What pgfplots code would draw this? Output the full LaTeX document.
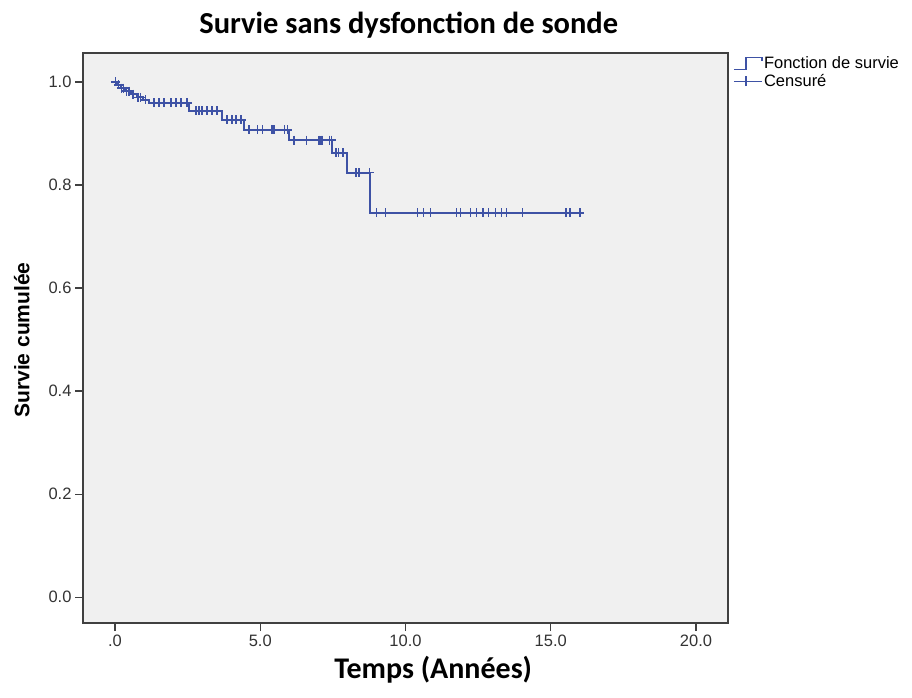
\documentclass[border=0pt]{standalone}
\usepackage{fontspec}
\setmainfont{Liberation Sans}
\newfontfamily\carlito{Carlito}
\usepackage{pgfplots}
\pgfplotsset{compat=1.18}

\definecolor{kmblue}{RGB}{62,82,165}
\definecolor{plotbg}{RGB}{240,240,240}

\begin{document}
\begin{tikzpicture}
\path[use as bounding box] (0pt,0pt) rectangle (912pt,698pt);
\begin{axis}[
    at={(83pt,75pt)}, anchor=south west,
    width=645pt, height=570pt, scale only axis,
    xmin=-1.1, xmax=21.1,
    ymin=-0.05, ymax=1.056,
    xtick={0,5,10,15,20},
    xticklabels={.0,5.0,10.0,15.0,20.0},
    ytick={0,0.2,0.4,0.6,0.8,1.0},
    yticklabels={0.0,0.2,0.4,0.6,0.8,1.0},
    tick align=outside, xtick pos=left, ytick pos=left,
    major tick length=8pt,
    tick style={line width=1.3pt, black!75},
    axis line style={line width=1.3pt, black!75},
    axis background/.style={fill=plotbg},
    ticklabel style={font=\fontsize{16.5}{18}\selectfont, text=black!80},
    /pgf/number format/assume math mode=true,
    title={\carlito\bfseries Survie sans dysfonction de sonde},
    title style={font=\fontsize{30.5}{34}\selectfont, at={(axis description cs:0.505,1)}, anchor=center, yshift=22pt},
    xlabel={\carlito\bfseries Temps (Années)},
    xlabel style={font=\fontsize{30}{34}\selectfont, at={(axis description cs:0.543,0)}, anchor=center, yshift=-47pt},
    ylabel={\bfseries Survie cumulée},
    ylabel style={font=\fontsize{21}{24}\selectfont, at={(axis description cs:-0.095,0.4965)}, anchor=center},
    legend style={at={(axis description cs:1.008,0.996)}, anchor=north west, draw=none, fill=none,
        font=\fontsize{16.5}{18}\selectfont, row sep=1pt, inner sep=0pt,
        nodes={inner sep=1.5pt}},
    legend cell align=left,
]
\addplot[const plot, color=kmblue, line width=2pt,
    legend image code/.code={
        \draw[kmblue, line width=1.2pt] (0pt,-6pt) -- (12pt,-6pt) -- (12pt,6pt) -- (28pt,6pt) -- (28pt,3pt);}]
coordinates {
(0,1.0) (0.08,0.994) (0.2,0.988) (0.35,0.982) (0.55,0.976) (0.75,0.970)
(0.95,0.965) (1.17,0.959) (2.55,0.944) (3.69,0.926) (4.45,0.907)
(6.0,0.887) (7.48,0.862) (7.97,0.824) (8.79,0.746) (16.05,0.746)
};
\addlegendentry{Fonction de survie}
\addplot[only marks, color=kmblue, mark=+, mark size=4.5pt, mark options={line width=1.5pt},
    legend image code/.code={
        \draw[kmblue, line width=1.2pt] (0pt,0pt) -- (28pt,0pt);
        \draw[kmblue, line width=1.2pt] (12pt,-5pt) -- (12pt,5pt);}]
coordinates {
(0.02,1.0) (0.12,0.994) (0.22,0.988) (0.3,0.988) (0.4,0.982) (0.48,0.982)
(0.62,0.976) (0.8,0.970) (0.88,0.970) (1.05,0.965)
(1.34,0.959) (1.52,0.959) (1.69,0.959) (1.93,0.959) (2.1,0.959) (2.28,0.959) (2.48,0.959)
(2.79,0.944) (2.9,0.944) (3.0,0.944) (3.17,0.944) (3.34,0.944) (3.52,0.944)
(3.86,0.926) (4.03,0.926) (4.17,0.926) (4.34,0.926)
(4.62,0.907) (4.9,0.907) (5.07,0.907) (5.41,0.907) (5.48,0.907) (5.83,0.907) (5.93,0.907)
(6.17,0.887) (6.59,0.887) (7.03,0.887) (7.1,0.887) (7.14,0.887) (7.38,0.887) (7.45,0.887)
(7.6,0.862) (7.7,0.862) (7.85,0.862)
(8.3,0.824) (8.4,0.824) (8.76,0.824)
(9.0,0.746) (9.31,0.746) (10.41,0.746) (10.62,0.746) (10.86,0.746) (11.76,0.746)
(11.9,0.746) (12.24,0.746) (12.45,0.746) (12.66,0.746) (12.86,0.746) (13.1,0.746)
(13.31,0.746) (13.48,0.746) (14.03,0.746) (15.52,0.746) (15.66,0.746) (16.0,0.746)
};
\addlegendentry{Censuré}
\end{axis}
\end{tikzpicture}
\end{document}
